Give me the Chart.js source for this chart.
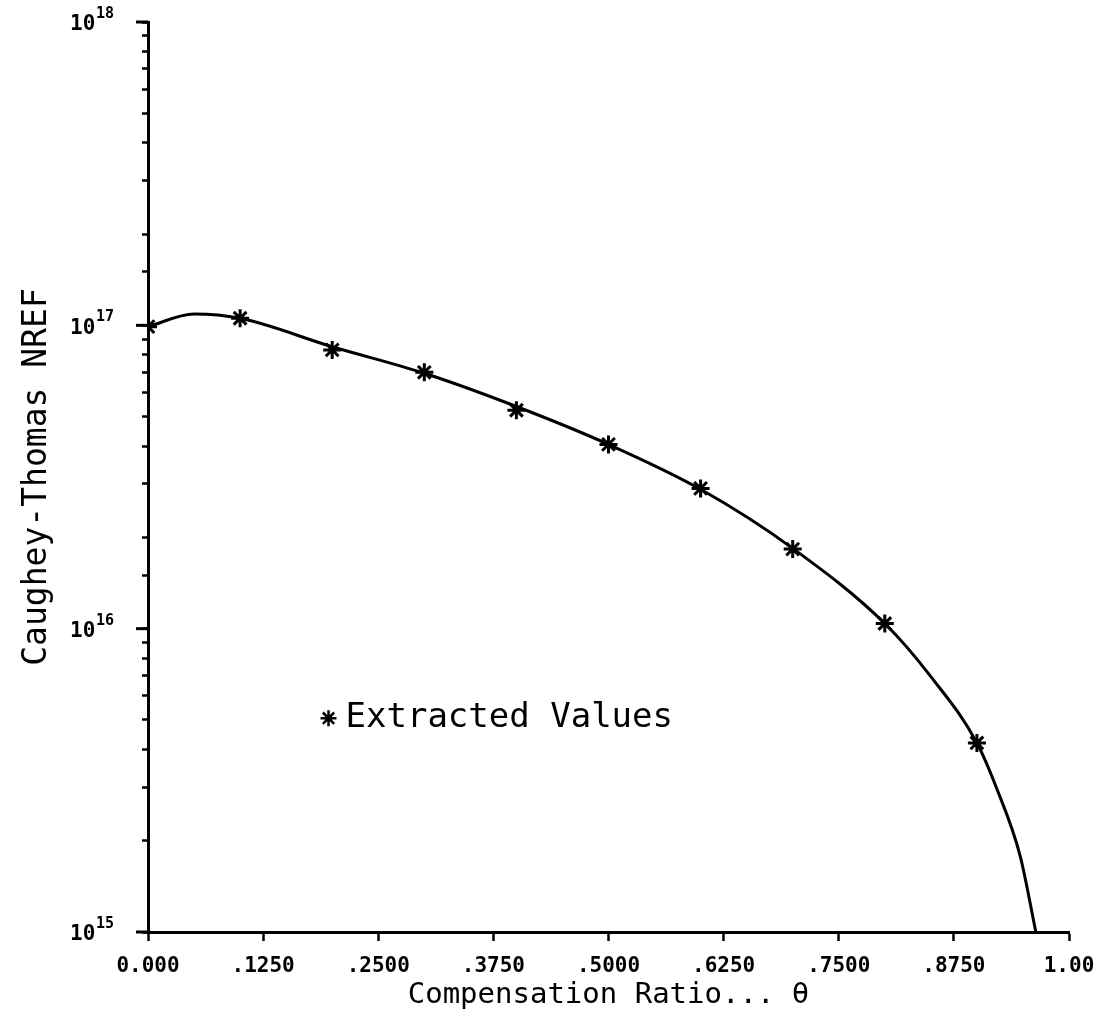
<!DOCTYPE html>
<html>
<head>
<meta charset="utf-8">
<script src="https://cdn.jsdelivr.net/npm/chart.js@4"></script>
<style>
  html, body { margin: 0; padding: 0; background: #fff; }
  #wrap { width: 1100px; height: 1027px; }
</style>
</head>
<body>
<div id="wrap"><canvas id="nrefChart" width="1100" height="1027"></canvas></div>
<script>
// extracted NREF values vs compensation ratio
const thetaPoints = [0.0, 0.1, 0.2, 0.3, 0.4, 0.5, 0.6, 0.7, 0.8, 0.9];
const nrefPoints = [9.9e16, 1.055e17, 8.3e16, 7.0e16, 5.25e16, 4.05e16, 2.9e16, 1.83e16, 1.04e16, 4.2e15];

// fitted curve
const thetaFit = [0.0, 0.05, 0.1, 0.2, 0.3, 0.4, 0.5, 0.6, 0.7, 0.8, 0.85, 0.9, 0.921, 0.947, 0.964];
const nrefFit = [9.9e16, 1.09e17, 1.055e17, 8.5e16, 6.95e16, 5.4e16, 4.05e16, 2.88e16, 1.84e16, 1.04e16, 6.95e15, 4.2e15, 3.0e15, 1.78e15, 1.0e15];

const xTickLabels = ["0.000", ".1250", ".2500", ".3750", ".5000", ".6250", ".7500", ".8750", "1.00"];
const yExponents = [15, 16, 17, 18];

const plotFont = "'DejaVu Sans Mono', 'Liberation Mono', monospace";

// decade labels written as 10 with a raised exponent, plus longer decade ticks
const decadeLabels = {
  id: "decadeLabels",
  afterDraw(chart) {
    const { ctx } = chart;
    const y = chart.scales.y;
    const axisX = chart.chartArea.left;
    ctx.save();
    ctx.fillStyle = "#000";
    ctx.strokeStyle = "#000";
    ctx.lineWidth = 3;
    ctx.textBaseline = "middle";
    yExponents.forEach((e) => {
      const py = y.getPixelForValue(Math.pow(10, e));
      ctx.beginPath();
      ctx.moveTo(axisX - 12, py);
      ctx.lineTo(axisX, py);
      ctx.stroke();
      ctx.font = "bold 21px " + plotFont;
      ctx.textAlign = "left";
      ctx.fillText("10", 70, py + 3);
      ctx.font = "bold 15px " + plotFont;
      ctx.fillText(String(e), 96, py - 8);
    });
    ctx.restore();
  }
};

// legend text placed inside the plot area
const legendInside = {
  id: "legendInside",
  afterDraw(chart) {
    const { ctx, chartArea } = chart;
    const x = chartArea.left + chartArea.width * 0.196;
    const y = chartArea.top + chartArea.height * 0.765;
    ctx.save();
    ctx.strokeStyle = "#000";
    ctx.lineWidth = 2.5;
    Chart.helpers.drawPoint(ctx, { pointStyle: "star", radius: 8, borderWidth: 2.5 }, x, y);
    ctx.fillStyle = "#000";
    ctx.font = "34px " + plotFont;
    ctx.textBaseline = "middle";
    ctx.fillText("Extracted Values", x + 17, y);
    ctx.restore();
  }
};

const ctx = document.getElementById("nrefChart").getContext("2d");
const nrefChart = new Chart(ctx, {
  type: "line",
  data: {
    datasets: [
      {
        label: "Fit",
        data: thetaFit.map((t, i) => ({ x: t, y: nrefFit[i] })),
        borderColor: "#000",
        borderWidth: 3,
        pointRadius: 0,
        cubicInterpolationMode: "monotone",
        fill: false,
      },
      {
        label: "Extracted Values",
        data: thetaPoints.map((t, i) => ({ x: t, y: nrefPoints[i] })),
        showLine: false,
        pointStyle: "star",
        pointRadius: 9,
        pointBorderWidth: 3,
        pointBorderColor: "#000",
        pointBackgroundColor: "#000",
      },
    ],
  },
  options: {
    responsive: false,
    animation: false,
    layout: { autoPadding: false, padding: { top: 22, right: 31, bottom: 0, left: 0 } },
    plugins: {
      legend: { display: false },
      tooltip: { enabled: false },
    },
    scales: {
      x: {
        type: "linear",
        min: 0,
        max: 1,
        afterFit: (s) => {
          s.height = 95;
          s.paddingLeft = 0;
          s.paddingRight = 0;
        },
        ticks: {
          stepSize: 0.125,
          padding: 13,
          color: "#000",
          font: { family: plotFont, size: 21, weight: "bold" },
          callback: (v) => xTickLabels[Math.round(v / 0.125)],
          maxRotation: 0,
          autoSkip: false,
        },
        grid: { drawOnChartArea: false, drawTicks: true, tickLength: 9, tickWidth: 2.5, tickColor: "#000" },
        border: { display: true, color: "#000", width: 3 },
        title: {
          display: true,
          text: "Compensation Ratio... \u03b8",
          color: "#000",
          font: { family: plotFont, size: 29 },
          padding: { top: 0, bottom: 14 },
        },
      },
      y: {
        type: "logarithmic",
        min: 1e15,
        max: 1e18,
        afterFit: (s) => {
          s.width = 148;
          s.paddingTop = 0;
          s.paddingBottom = 0;
        },
        ticks: {
          padding: 0,
          autoSkip: false,
          font: { family: plotFont, size: 10 },
          callback: () => "",
        },
        grid: {
          drawOnChartArea: false,
          drawTicks: true,
          tickLength: 6,
          tickColor: "#000",
          tickWidth: 2.5,
        },
        border: { display: true, color: "#000", width: 3 },
        title: {
          display: true,
          text: "Caughey-Thomas NREF",
          color: "#000",
          font: { family: plotFont, size: 33 },
          padding: { top: 18, bottom: 0 },
        },
      },
    },
  },
  plugins: [decadeLabels, legendInside],
});
</script>
</body>
</html>
